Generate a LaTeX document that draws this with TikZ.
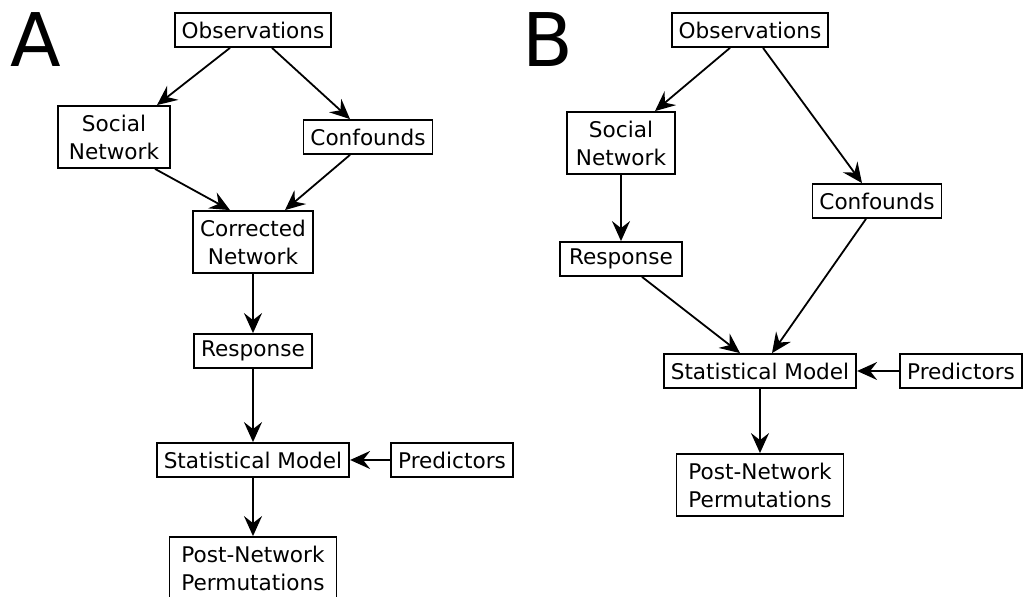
\documentclass[tikz,border=0pt]{standalone}
\usepackage{fontspec}
\setmainfont{DejaVu Sans}
\usetikzlibrary{arrows.meta}

\tikzset{
	box/.style={draw, line width=0.9pt, align=center, inner xsep=3.5pt, inner ysep=2.5pt,
		minimum height=17pt, font=\fontsize{10.8}{14}\selectfont},
	tallbox/.style={box, minimum height=31pt},
	flow/.style={-{Stealth[length=10pt, width=9pt, inset=3.5pt]}, line width=0.9pt},
	panel/.style={font=\fontsize{37}{37}\selectfont}
}

\begin{document}
\begin{tikzpicture}[x=0.5pt, y=-0.5pt]
		\useasboundingbox (0,0) rectangle (1024,597);
		
		% panel A
		\node[panel] (labA) at (36,40) {A};
		\node[box] (obsA) at (253,30) {Observations};
		\node[tallbox, minimum width=56pt] (socA) at (114,137) {Social\\Network};
		\node[box] (confA) at (368,137) {Confounds};
		\node[tallbox, minimum width=58pt] (corrA) at (253,242) {Corrected\\Network};
		\node[box, minimum width=57.5pt] (respA) at (253,351) {Response};
		\node[box] (statA) at (253,460) {Statistical Model};
		\node[box] (predA) at (452,460) {Predictors};
		\node[tallbox, minimum width=83.5pt] (postA) at (253,568) {Post-Network\\Permutations};
		
		\draw[flow] ([xshift=-11.5pt]obsA.south) -- ([xshift=21.5pt]socA.north);
		\draw[flow] ([xshift=9.5pt]obsA.south) -- ([xshift=-9pt]confA.north);
		\draw[flow] ([xshift=20.5pt]socA.south) -- ([xshift=-11.5pt]corrA.north);
		\draw[flow] ([xshift=-9pt]confA.south) -- ([xshift=16pt]corrA.north);
		\draw[flow] (corrA) -- (respA);
		\draw[flow] (respA) -- (statA);
		\draw[flow] (predA) -- (statA);
		\draw[flow] (statA) -- (postA);
		
		% panel B
		\node[panel] (labB) at (548,40) {B};
		\node[box] (obsB) at (750,30) {Observations};
		\node[tallbox, minimum width=54pt] (socB) at (621,143) {Social\\Network};
		\node[box] (confB) at (877,201) {Confounds};
		\node[box, minimum width=61pt] (respB) at (621,259) {Response};
		\node[box] (statB) at (760,371) {Statistical Model};
		\node[box] (predB) at (961,371) {Predictors};
		\node[tallbox, minimum width=83.5pt] (postB) at (760,485) {Post-Network\\Permutations};
		
		\draw[flow] ([xshift=-10pt]obsB.south) -- ([xshift=17pt]socB.north);
		\draw[flow] ([xshift=6.5pt]obsB.south) -- ([xshift=-7.5pt]confB.north);
		\draw[flow] (socB) -- (respB);
		\draw[flow] ([xshift=10.5pt]respB.south) -- ([xshift=-10pt]statB.north);
		\draw[flow] ([xshift=-5.5pt]confB.south) -- ([xshift=6pt]statB.north);
		\draw[flow] (predB) -- (statB);
		\draw[flow] (statB) -- (postB);
	\end{tikzpicture}
\end{document}
